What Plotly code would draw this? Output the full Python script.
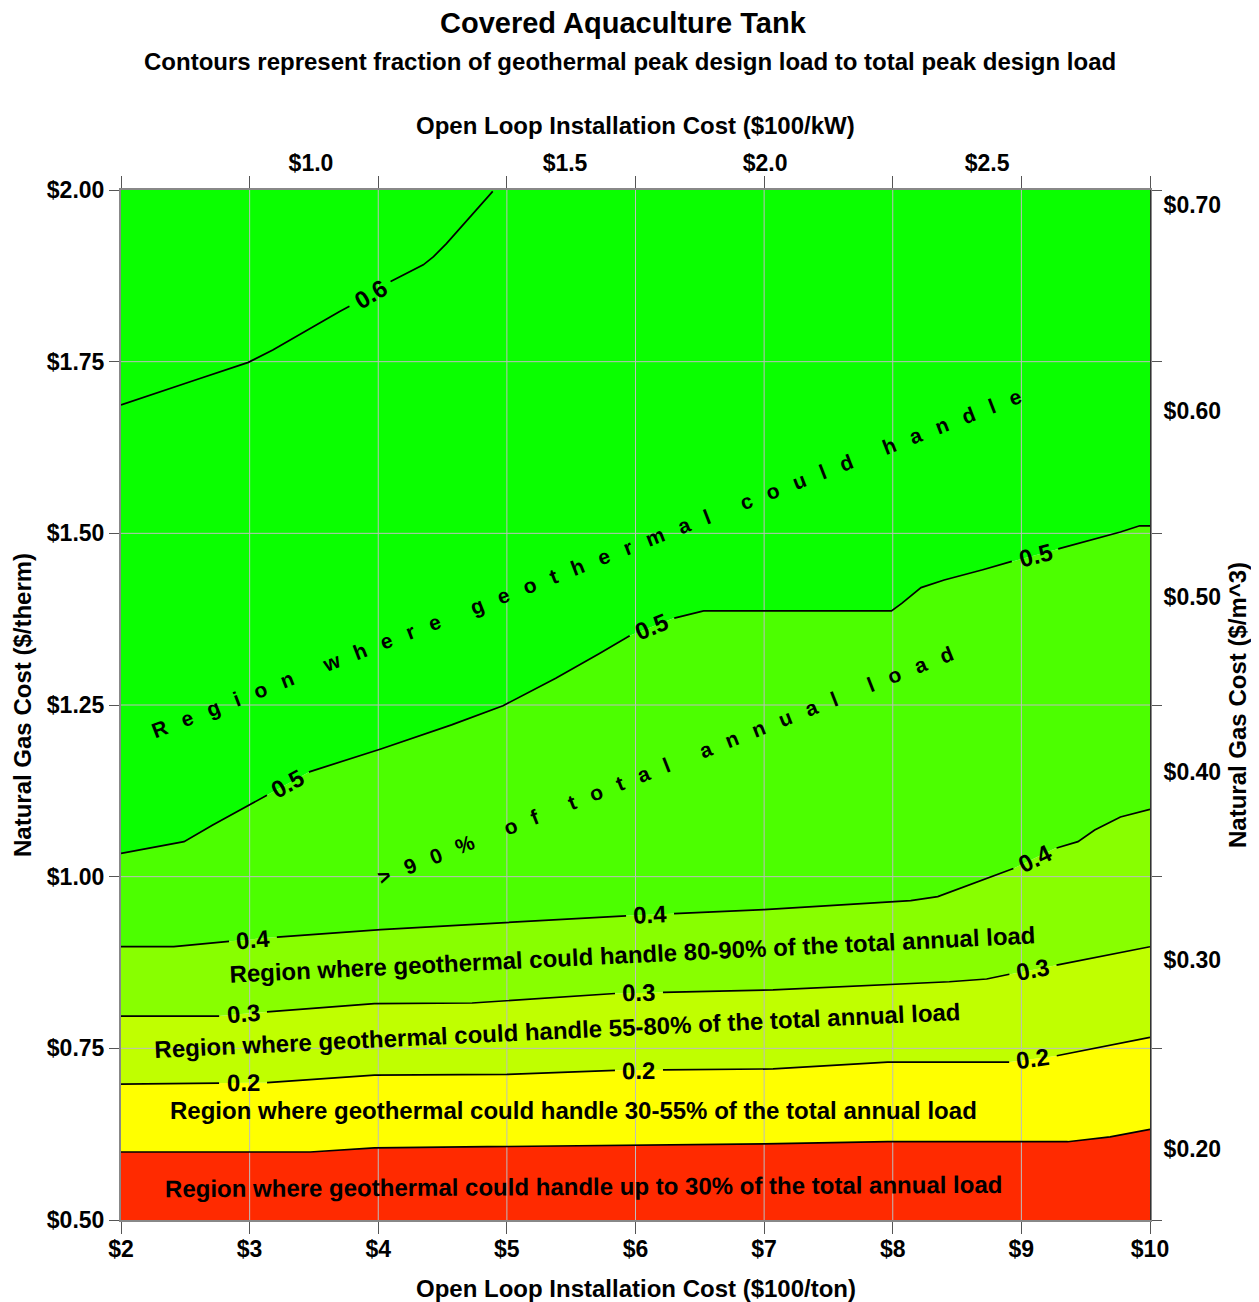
import numpy as np
import plotly.graph_objects as go

# ---------------- data ----------------
x_ticks = [2, 3, 4, 5, 6, 7, 8, 9, 10]
x_ticktext = ["$2", "$3", "$4", "$5", "$6", "$7", "$8", "$9", "$10"]
y_ticks = [0.50, 0.75, 1.00, 1.25, 1.50, 1.75, 2.00]
y_ticktext = ["$0.50", "$0.75", "$1.00", "$1.25", "$1.50", "$1.75", "$2.00"]

# top axis ($100/kW) labels, positioned in $100/ton units
top_tickvals = [3.477, 5.452, 7.007, 8.733]
top_ticktext = ["$1.0", "$1.5", "$2.0", "$2.5"]
# right axis ($/m^3) labels, positioned in $/therm units
right_tickvals = [1.978, 1.678, 1.407, 1.152, 0.879, 0.603]
right_ticktext = ["$0.70", "$0.60", "$0.50", "$0.40", "$0.30", "$0.20"]

# contour lines (x in $100/ton, y in $/therm)
c01_x = [2.00, 3.47, 3.97, 5.79, 7.00, 7.96, 9.36, 9.69, 10.00]
c01_y = [0.599, 0.599, 0.605, 0.608, 0.611, 0.614, 0.614, 0.621, 0.632]

c02_x = [2.00, 3.13, 3.97, 5.00, 5.85, 7.07, 7.96, 8.91, 9.27, 10.00]
c02_y = [0.698, 0.700, 0.711, 0.712, 0.718, 0.720, 0.730, 0.730, 0.739, 0.766]

c03_x = [2.00, 2.76, 3.13, 3.97, 4.73, 5.85, 7.07, 8.44, 8.73, 8.91, 9.27, 10.00]
c03_y = [0.797, 0.797, 0.803, 0.815, 0.816, 0.830, 0.835, 0.847, 0.851, 0.858, 0.871, 0.898]

c04_x = [2.00, 2.41, 2.85, 3.21, 4.02, 5.93, 7.00, 8.14, 8.35, 8.94, 9.26, 9.44, 9.57, 9.77, 10.00]
c04_y = [0.898, 0.898, 0.906, 0.912, 0.923, 0.943, 0.952, 0.965, 0.971, 1.012, 1.041, 1.051, 1.068, 1.087, 1.098]

c05_x = [2.00, 2.49, 2.71, 3.00, 3.12, 3.47, 4.02, 4.57, 4.97, 5.38, 5.72, 5.93, 6.29, 6.53,
         7.99, 8.07, 8.22, 8.40, 8.70, 8.94, 9.28, 9.77, 9.92, 10.00]
c05_y = [1.034, 1.051, 1.075, 1.104, 1.117, 1.153, 1.186, 1.221, 1.249, 1.289, 1.325, 1.349, 1.376, 1.387,
         1.387, 1.398, 1.421, 1.432, 1.447, 1.460, 1.477, 1.502, 1.511, 1.511]

c06_x = [2.00, 2.36, 2.59, 2.99, 3.18, 3.70, 3.78, 4.10, 4.35, 4.43, 4.53, 4.74, 4.89]
c06_y = [1.687, 1.709, 1.724, 1.749, 1.767, 1.823, 1.831, 1.867, 1.891, 1.903, 1.922, 1.966, 1.998]

# contour label text and positions along each line (x in $100/ton)
label_x = {
    "0.2": [2.949, 6.027, 9.090],
    "0.3": [2.949, 6.027, 9.090],
    "0.4": [3.026, 6.113, 9.106],
    "0.5": [3.298, 6.128, 9.106],
    "0.6": [3.936],
}

band_colors = ["#ff2a00", "#ffff00", "#c0ff00", "#88ff00", "#4cff00", "#0aff00"]

FONT = "Liberation Sans, Arial, sans-serif"
PX_X = 1029 / 8.0     # pixels per $100/ton
PX_Y = 1030 / 1.5     # pixels per $/therm
BODY = 8              # default page margin of the html body

fig = go.Figure()

# ---------------- filled bands ----------------
fig.add_trace(go.Scatter(x=[2, 10], y=[0.5, 0.5], mode="lines", line=dict(width=0),
                         hoverinfo="skip", showlegend=False))
for cx, cy, col in zip([c01_x, c02_x, c03_x, c04_x, c05_x, [2, 10]],
                       [c01_y, c02_y, c03_y, c04_y, c05_y, [2.0, 2.0]],
                       band_colors):
    fig.add_trace(go.Scatter(x=cx, y=cy, mode="lines", line=dict(width=0),
                             fill="tonexty", fillcolor=col, hoverinfo="skip", showlegend=False))

# ---------------- grid lines (drawn over the fills) ----------------
gx, gy = [], []
for v in x_ticks[1:-1]:
    gx += [v, v, None]
    gy += [y_ticks[0], y_ticks[-1], None]
for v in y_ticks[1:-1]:
    gx += [x_ticks[0], x_ticks[-1], None]
    gy += [v, v, None]
fig.add_trace(go.Scatter(x=gx, y=gy, mode="lines", line=dict(color="#bdbdbd", width=1),
                         hoverinfo="skip", showlegend=False))


# ---------------- contour lines with label gaps ----------------
def line_with_gaps(xs, ys, lxs, half_px=24):
    xs = np.asarray(xs, float)
    ys = np.asarray(ys, float)
    labels = []
    gaps = []
    for lx in lxs:
        ly = float(np.interp(lx, xs, ys))
        d = 0.06
        a = max(lx - d, xs[0])
        b = min(lx + d, xs[-1])
        slope = (np.interp(b, xs, ys) - np.interp(a, xs, ys)) / (b - a)
        ang = np.degrees(np.arctan(slope * PX_Y / PX_X))
        hw = half_px * np.cos(np.radians(ang)) / PX_X
        gaps.append((lx - hw, lx + hw))
        labels.append((lx, ly, ang))
    ox, oy = [], []
    start = xs[0]
    for g0, g1 in gaps + [(None, None)]:
        end = xs[-1] if g0 is None else g0
        ox.append(start); oy.append(float(np.interp(start, xs, ys)))
        for px, py in zip(xs, ys):
            if start < px < end:
                ox.append(px); oy.append(py)
        ox.append(end); oy.append(float(np.interp(end, xs, ys)))
        ox.append(None); oy.append(None)
        if g1 is not None:
            start = g1
    return ox, oy, labels


annotations = []
lines = [(c01_x, c01_y, None), (c02_x, c02_y, "0.2"), (c03_x, c03_y, "0.3"),
         (c04_x, c04_y, "0.4"), (c05_x, c05_y, "0.5"), (c06_x, c06_y, "0.6")]
for cx, cy, name in lines:
    lxs = label_x.get(name, []) if name else []
    ox, oy, labs = line_with_gaps(cx, cy, lxs)
    fig.add_trace(go.Scatter(x=ox, y=oy, mode="lines", line=dict(color="black", width=1.7),
                             hoverinfo="skip", showlegend=False, connectgaps=False))
    for lx, ly, ang in labs:
        annotations.append(dict(x=lx, y=ly, xref="x", yref="y", text=name, showarrow=False,
                                textangle=-ang, xanchor="center", yanchor="middle",
                                font=dict(family=FONT, size=24, color="black", weight="bold")))

# dummy trace so the secondary axes are drawn
fig.add_trace(go.Scatter(x=[2, 10], y=[0.5, 0.5], xaxis="x2", yaxis="y2", mode="markers",
                         marker=dict(opacity=0), hoverinfo="skip", showlegend=False))

# ---------------- region texts ----------------
sp = "\u00a0"
thin = "\u2009"


def spaced(s):
    words = s.split(" ")
    return (sp * 5 + thin).join((sp * 2 + thin).join(list(w)) for w in words)


region_texts = [
    (spaced("Region where geothermal could handle"), 586, 563, -21.2, 21),
    (spaced(">90% of total annual load"), 665, 765, -21.5, 21),
    ("Region where geothermal could handle 80-90% of the total annual load", 632, 954, -2.8, 24),
    ("Region where geothermal could handle 55-80% of the total annual load", 557, 1030, -2.7, 24),
    ("Region where geothermal could handle 30-55% of the total annual load", 573, 1110, 0, 24),
    ("Region where geothermal could handle up to 30% of the total annual load", 583, 1186, -0.3, 24),
]
for txt, px, py, ang, fs in region_texts:
    annotations.append(dict(x=2 + (px - 121) / PX_X, y=0.5 + (1220 - py) / PX_Y, xref="x", yref="y",
                            text=txt, showarrow=False, textangle=ang, xanchor="center", yanchor="middle",
                            font=dict(family=FONT, size=fs, color="black", weight="bold")))


# ---------------- titles ----------------
def paper_x(px):
    return (px - 121) / 1029.0


def paper_y(py):
    return (1220 - py) / 1030.0


title_specs = [
    ("Covered Aquaculture Tank", 623, 23, 0, 29),
    ("Contours represent fraction of geothermal peak design load to total peak design load", 630, 62, 0, 24),
    ("Open Loop Installation Cost ($100/kW)", 635, 125, 0, 24),
    ("Open Loop Installation Cost ($100/ton)", 636, 1288, 0, 24),
    ("Natural Gas Cost ($/therm)", 22, 705, -90, 24),
    ("Natural Gas Cost ($/m^3)", 1237, 705, -90, 24),
]
for txt, px, py, ang, fs in title_specs:
    annotations.append(dict(x=paper_x(px), y=paper_y(py), xref="paper", yref="paper", text=txt,
                            showarrow=False, textangle=ang, xanchor="center", yanchor="middle",
                            font=dict(family=FONT, size=fs, color="black", weight="bold")))

tickfont = dict(family=FONT, size=23, color="black", weight="bold")

fig.update_layout(
    width=1259 - BODY, height=1302 - BODY,
    margin=dict(l=121 - BODY, r=109, t=190 - BODY, b=82, pad=0),
    paper_bgcolor="white", plot_bgcolor="white",
    showlegend=False,
    xaxis=dict(range=[2, 10], tickvals=x_ticks, ticktext=x_ticktext, tickfont=tickfont,
               ticks="outside", ticklen=12, tickwidth=1, tickcolor="#555555",
               ticklabelstandoff=-5,
               showline=True, linecolor="#888888", linewidth=2, mirror="ticks",
               showgrid=False, zeroline=False, fixedrange=True, automargin=False),
    yaxis=dict(range=[0.5, 2.0], tickvals=y_ticks, ticktext=y_ticktext, tickfont=tickfont,
               ticks="outside", ticklen=10, tickwidth=1, tickcolor="#555555",
               showline=True, linecolor="#888888", linewidth=2, mirror="ticks",
               showgrid=False, zeroline=False, fixedrange=True, automargin=False),
    xaxis2=dict(overlaying="x", side="top", range=[2, 10], tickvals=top_tickvals,
                ticktext=top_ticktext, tickfont=tickfont, ticks="outside", ticklen=9,
                tickcolor="rgba(0,0,0,0)", showline=False, showgrid=False, zeroline=False,
                automargin=False),
    yaxis2=dict(overlaying="y", side="right", range=[0.5, 2.0], tickvals=right_tickvals,
                ticktext=right_ticktext, tickfont=tickfont, ticks="outside", ticklen=8,
                tickcolor="rgba(0,0,0,0)", showline=True, linecolor="#333333", linewidth=1,
                showgrid=False, zeroline=False, automargin=False),
    annotations=annotations,
)

fig.write_html("out.html")
